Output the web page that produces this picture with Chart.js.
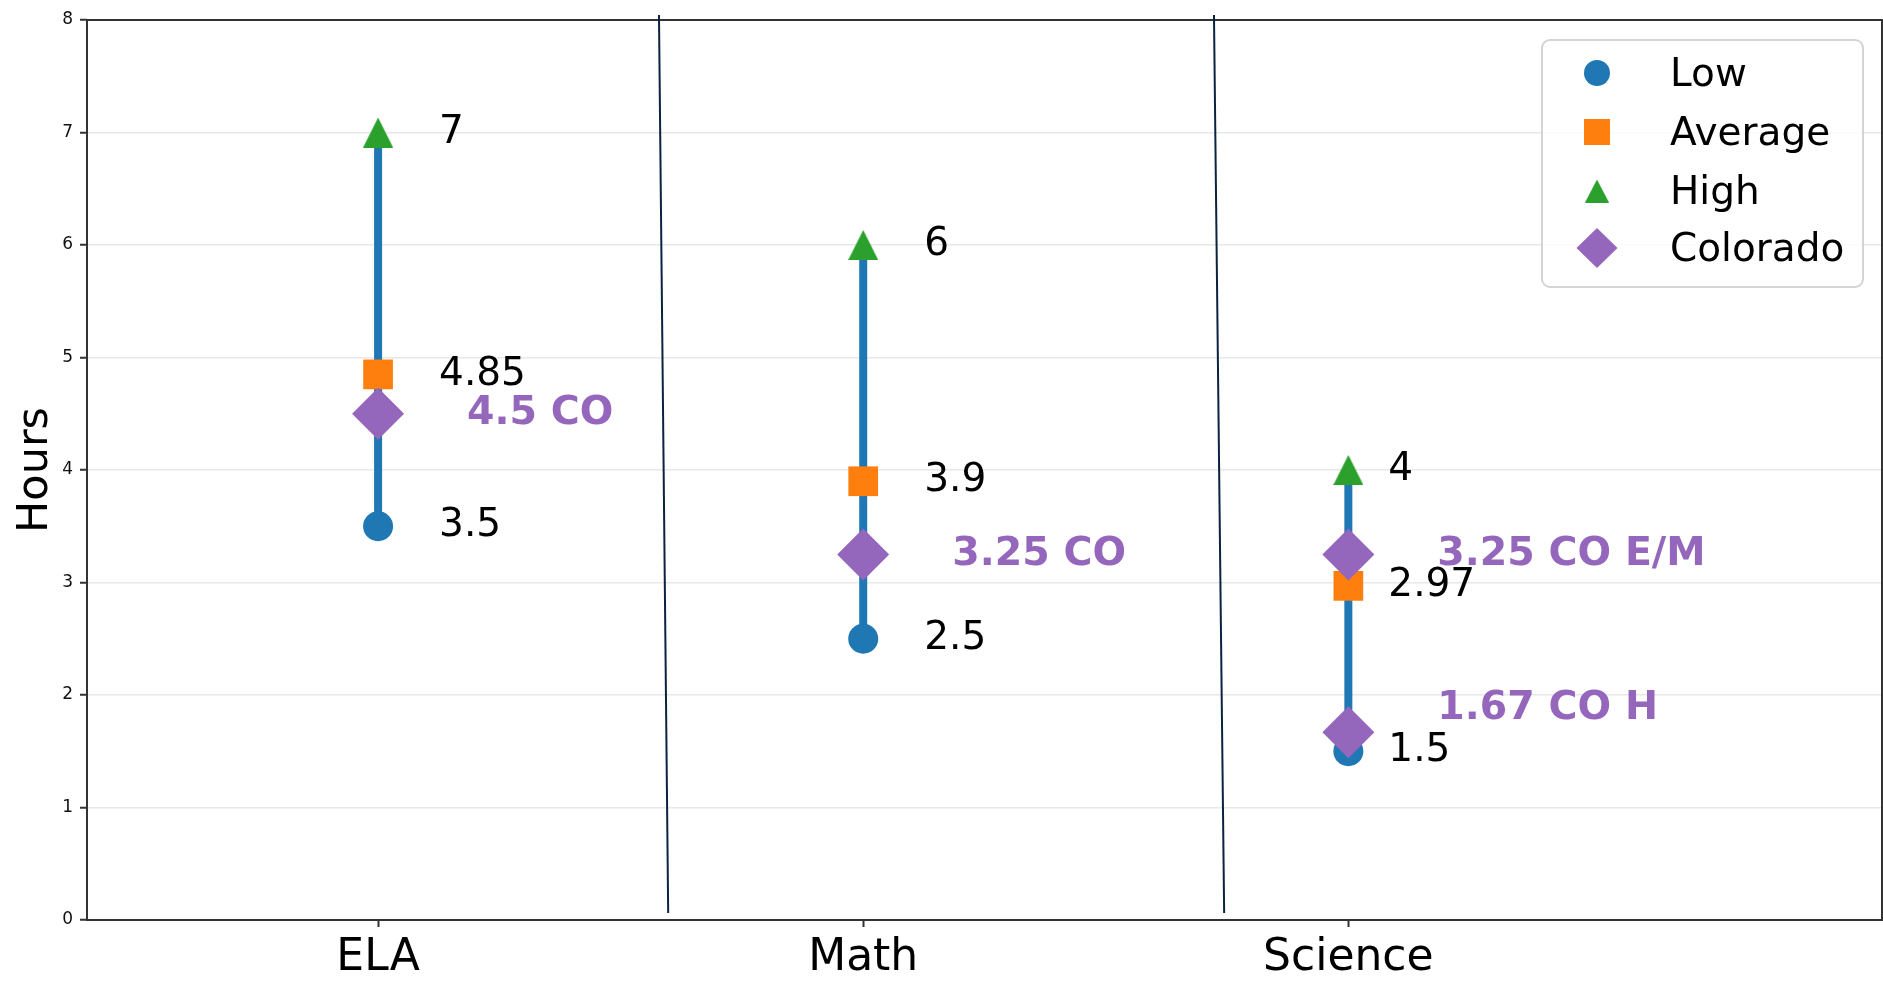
<!DOCTYPE html>
<html>
<head>
<meta charset="utf-8">
<title>Hours by subject</title>
<script src="https://cdn.jsdelivr.net/npm/chart.js@4.4.1/dist/chart.umd.min.js"></script>
<style>
  html, body { margin: 0; padding: 0; background: #fff; }
  #chart { display: block; }
</style>
</head>
<body>
<canvas id="chart" width="1883" height="981"></canvas>
<script>
// --- data ---
const subjects = ['ELA', 'Math', 'Science'];
const lowHours = [3.5, 2.5, 1.5];
const avgHours = [4.85, 3.9, 2.97];
const highHours = [7, 6, 4];

// Colorado values (science has two: E/M and H)
const coSubject = [0, 1, 2, 2];
const coHours = [4.5, 3.25, 3.25, 1.67];
const coLabels = ['4.5 CO', '3.25 CO', '3.25 CO E/M', '1.67 CO H'];

const yTicks = [0, 1, 2, 3, 4, 5, 6, 7, 8];

// the two hand drawn separator lines (x at top, x at bottom)
const sepX = [[0.579, 0.598], [1.723, 1.744]];
const sepY = [8.045, 0.062];

// --- styles ---
const FONT = '"DejaVu Sans", sans-serif';
const BLUE = '#1f77b4', ORANGE = '#ff7f0e', GREEN = '#2ca02c', PURPLE = '#9467bd';
const valueOffset = [61, 61, 40];   // px right of the range line
const coOffset = 89;
const coNudge = [0, 0, 0, 0.21];    // 1.67 label sits a bit higher

// matplotlib style triangle, centred on its bounding box
function triangleImage(w, h, color) {
  const c = document.createElement('canvas');
  c.width = w; c.height = h;
  const g = c.getContext('2d');
  g.fillStyle = color;
  g.beginPath();
  g.moveTo(w / 2, 0);
  g.lineTo(w, h);
  g.lineTo(0, h);
  g.closePath();
  g.fill();
  return c;
}
const triMarker = triangleImage(30, 30, GREEN);

// range lines low -> high, broken between subjects
const rangeData = [];
subjects.forEach((_, i) => {
  rangeData.push({ x: i, y: lowHours[i] });
  rangeData.push({ x: i, y: highHours[i] });
  rangeData.push({ x: i, y: null });
});

const pts = (vals) => vals.map((v, i) => ({ x: i, y: v }));

const framePlugin = {
  id: 'frame',
  beforeDatasetsDraw(chart) {
    const { ctx, chartArea: a } = chart;
    ctx.save();
    ctx.strokeStyle = '#333';
    ctx.lineWidth = 2;
    ctx.strokeRect(a.left, a.top, a.right - a.left, a.bottom - a.top);
    ctx.restore();
  }
};

const labelPlugin = {
  id: 'valueLabels',
  afterDatasetsDraw(chart) {
    const { ctx } = chart;
    const xs = chart.scales.x, ys = chart.scales.y;
    ctx.save();
    ctx.textBaseline = 'middle';
    ctx.textAlign = 'left';
    ctx.fillStyle = '#000';
    ctx.font = '39px ' + FONT;
    [lowHours, avgHours, highHours].forEach(arr => {
      arr.forEach((v, i) => {
        ctx.fillText(String(v), xs.getPixelForValue(i) + valueOffset[i], ys.getPixelForValue(v));
      });
    });
    ctx.fillStyle = PURPLE;
    ctx.font = 'bold 39.5px ' + FONT;
    coHours.forEach((v, k) => {
      ctx.fillText(coLabels[k], xs.getPixelForValue(coSubject[k]) + coOffset,
        ys.getPixelForValue(v + coNudge[k]));
    });
    ctx.restore();
  }
};

const legendPlugin = {
  id: 'boxLegend',
  afterDraw(chart) {
    const { ctx } = chart;
    const bx = 1542, by = 40, bw = 321, bh = 247, r = 8;
    ctx.save();
    ctx.beginPath();
    ctx.roundRect(bx, by, bw, bh, r);
    ctx.fillStyle = 'rgba(255,255,255,0.8)';
    ctx.fill();
    ctx.strokeStyle = '#d4d4d4';
    ctx.lineWidth = 2;
    ctx.stroke();

    const mx = 1597, tx = 1670;
    const rows = [73, 132, 191, 248];
    const names = ['Low', 'Average', 'High', 'Colorado'];
    // circle
    ctx.fillStyle = BLUE;
    ctx.beginPath(); ctx.arc(mx, rows[0], 13, 0, Math.PI * 2); ctx.fill();
    // square
    ctx.fillStyle = ORANGE;
    ctx.fillRect(mx - 13, rows[1] - 13, 26, 26);
    // triangle
    ctx.drawImage(triangleImage(24, 23, GREEN), mx - 12, rows[2] - 11.5);
    // diamond
    ctx.fillStyle = PURPLE;
    ctx.beginPath();
    ctx.moveTo(mx, rows[3] - 20); ctx.lineTo(mx + 20.5, rows[3]);
    ctx.lineTo(mx, rows[3] + 20); ctx.lineTo(mx - 20.5, rows[3]);
    ctx.closePath(); ctx.fill();

    ctx.fillStyle = '#000';
    ctx.font = '39px ' + FONT;
    ctx.textBaseline = 'middle';
    ctx.textAlign = 'left';
    names.forEach((n, i) => ctx.fillText(n, tx, rows[i] + 3));
    ctx.restore();
  }
};

new Chart(document.getElementById('chart'), {
  type: 'scatter',
  data: {
    datasets: [
      {
        label: 'Colorado',
        data: coHours.map((v, k) => ({ x: coSubject[k], y: v })),
        pointStyle: 'rectRot', pointRadius: 26, backgroundColor: PURPLE, borderWidth: 0, order: 1
      },
      {
        label: 'High',
        data: pts(highHours),
        pointStyle: triMarker, backgroundColor: GREEN, borderWidth: 0, order: 2
      },
      {
        label: 'Average',
        data: pts(avgHours),
        pointStyle: 'rect', pointRadius: 21, backgroundColor: ORANGE, borderWidth: 0, order: 3
      },
      {
        label: 'Low',
        data: pts(lowHours),
        pointStyle: 'circle', pointRadius: 15, backgroundColor: BLUE, borderWidth: 0, order: 4
      },
      {
        label: 'range',
        data: rangeData,
        showLine: true, spanGaps: false, pointRadius: 0,
        borderColor: BLUE, borderWidth: 8, borderCapStyle: 'butt', order: 5
      },
      ...sepX.map((xx, i) => ({
        label: 'sep' + i,
        data: [{ x: xx[0], y: sepY[0] }, { x: xx[1], y: sepY[1] }],
        showLine: true, pointRadius: 0, clip: false,
        borderColor: '#0c2340', borderWidth: 2, order: 6
      }))
    ]
  },
  options: {
    responsive: false,
    animation: false,
    events: [],
    layout: { autoPadding: false, padding: { top: 20, right: 1, left: 0, bottom: 0 } },
    plugins: {
      legend: { display: false },
      tooltip: { enabled: false }
    },
    scales: {
      x: {
        type: 'linear',
        min: -0.6,
        max: 3.1,
        afterBuildTicks: s => { s.ticks = subjects.map((_, i) => ({ value: i })); },
        afterFit: s => { s.height = 61; s.paddingLeft = 0; s.paddingRight = 0; },
        border: { display: false },
        grid: { drawOnChartArea: false, drawTicks: true, tickLength: 7, tickColor: '#333', tickWidth: 2 },
        ticks: {
          autoSkip: false, maxRotation: 0, padding: 5, color: '#000',
          font: { family: FONT, size: 44 },
          callback: v => subjects[v] ?? ''
        }
      },
      y: {
        min: 0,
        max: 8,
        afterBuildTicks: s => { s.ticks = yTicks.map(v => ({ value: v })); },
        afterFit: s => { s.width = 87; s.paddingTop = 0; s.paddingBottom = 0; },
        border: { display: false },
        grid: { color: '#e8e8e8', lineWidth: 1.5, tickLength: 7, tickColor: '#333', tickWidth: 2 },
        ticks: { padding: 7, color: '#111', font: { family: FONT, size: 17 } },
        title: {
          display: true, text: 'Hours', color: '#000',
          font: { family: FONT, size: 43 }, padding: { top: 10, bottom: 0 }
        }
      }
    }
  },
  plugins: [framePlugin, labelPlugin, legendPlugin]
});
</script>
</body>
</html>
